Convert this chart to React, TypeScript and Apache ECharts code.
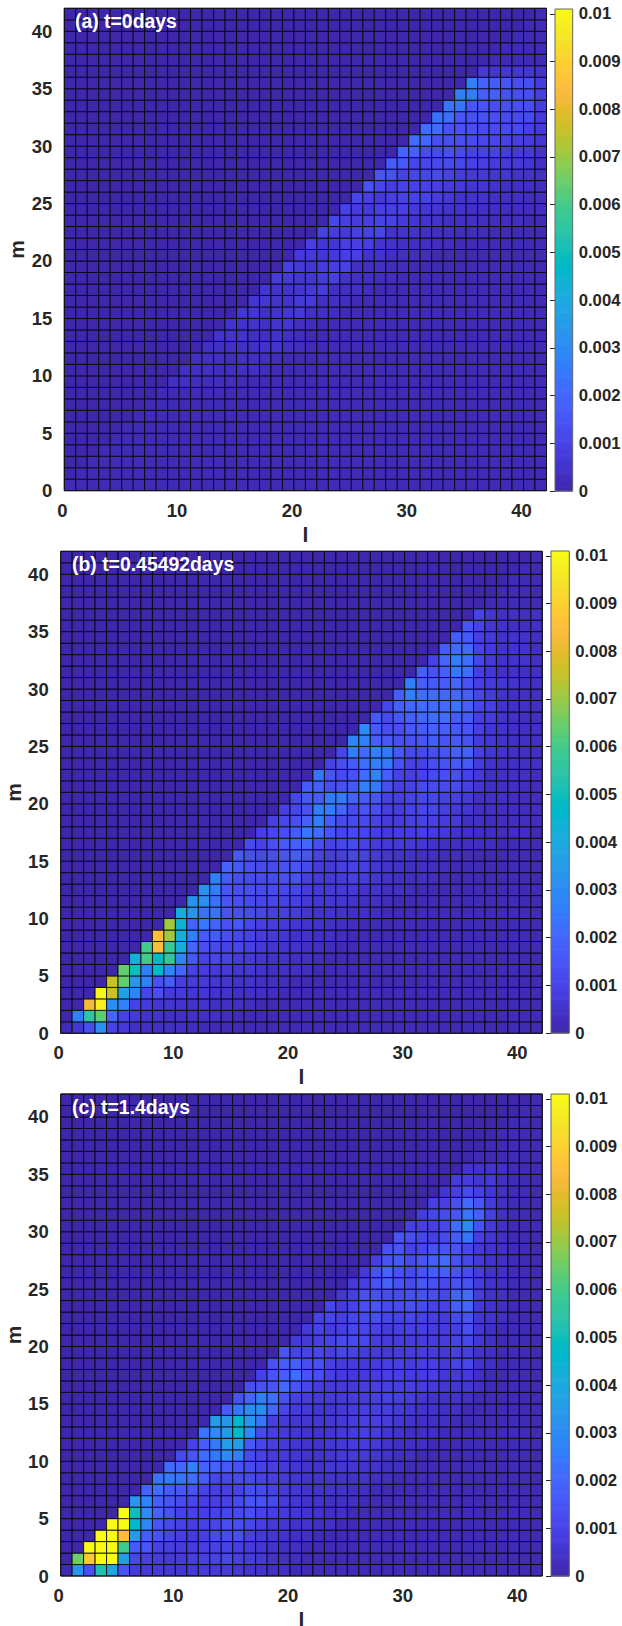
import React, { useEffect, useRef } from "react";
import * as echarts from "echarts";

const FONT = "Liberation Sans";
const xTicks = [0, 10, 20, 30, 40];
const yTicks = [0, 5, 10, 15, 20, 25, 30, 35, 40];
const barTicks = [0, 0.001, 0.002, 0.003, 0.004, 0.005, 0.006, 0.007, 0.008, 0.009, 0.01];
const titles = ["(a) t=0days", "(b) t=0.45492days", "(c) t=1.4days"];

// Values are in units of 1e-4. Row form: [m, first l, value at l, value at l+1, ...]
const panelARows = [
  [36, 36, 7, 6, 6, 6, 6, 5],
  [35, 35, 27, 19, 17, 15, 13, 13, 8],
  [34, 34, 26, 26, 18, 18, 14, 13, 13, 9],
  [33, 33, 24, 24, 15, 15, 13, 13, 13, 13, 8],
  [32, 32, 23, 22, 15, 14, 14, 13, 12, 12, 12, 7],
  [31, 31, 22, 22, 14, 14, 13, 12, 12, 12, 12, 9, 7],
  [30, 30, 21, 20, 13, 13, 13, 12, 11, 11, 10, 9, 8, 6],
  [29, 29, 19, 18, 12, 12, 13, 12, 10, 10, 10, 8, 7, 7, 5],
  [28, 28, 17, 16, 11, 11, 12, 12, 11, 10, 9, 8, 7, 7, 6, 4],
  [27, 27, 15, 14, 10, 11, 11, 12, 10, 8, 7, 7, 6, 6, 5, 5, 4],
  [26, 26, 14, 11, 8, 10, 10, 10, 9, 8, 7, 6, 6, 5, 4, 4, 4, 3],
  [25, 25, 11, 9, 7, 9, 10, 10, 10, 8, 7, 5, 5, 5, 4, 4, 4, 3, 3],
  [24, 24, 10, 8, 7, 9, 9, 9, 7, 6, 6, 5, 5, 4, 4, 4, 3, 3, 3, 3],
  [23, 23, 11, 9, 8, 9, 10, 10, 7, 6, 5, 5, 4, 4, 4, 3, 3, 3, 3],
  [22, 22, 10, 8, 7, 9, 10, 11, 5, 5, 5, 4, 4, 4, 3, 3, 3],
  [21, 21, 9, 6, 6, 9, 9, 9, 5, 5, 4, 4, 4, 3, 3],
  [20, 20, 7, 7, 6, 7, 9, 9, 5, 5, 4, 4, 3, 3],
  [19, 19, 9, 7, 6, 8, 9, 10, 4, 4, 4, 3, 3],
  [18, 18, 8, 7, 6, 6, 8, 9, 5, 4, 4, 3, 3],
  [17, 17, 6, 5, 5, 6, 7, 8, 4, 4, 4, 3],
  [16, 16, 6, 6, 5, 5, 7, 7, 4, 4, 3],
  [15, 15, 6, 6, 4, 5, 6, 7, 4, 4, 3],
  [14, 14, 5, 5, 5, 4, 5, 6, 4, 3],
  [13, 13, 5, 5, 5, 4, 4, 5, 4, 3],
  [12, 12, 4, 4, 4, 4, 4, 5, 5, 4, 3],
  [11, 11, 4, 4, 4, 3, 4, 4, 4, 3],
  [10, 10, 4, 4, 4, 3, 3, 4, 4, 3],
  [9, 9, 4, 4, 3, 3, 3, 3],
];

const panelBRows = [
  [36, 36, 10, 6, 4, 4, 4, 4],
  [35, 35, 15, 10, 6, 5, 4, 4, 4],
  [34, 34, 17, 16, 9, 7, 5, 5, 5, 4],
  [33, 33, 17, 21, 21, 10, 7, 5, 5, 5, 4],
  [32, 32, 10, 20, 26, 23, 11, 7, 5, 5, 5, 4],
  [31, 31, 18, 14, 18, 25, 22, 9, 6, 4, 4, 4, 4],
  [30, 30, 27, 18, 17, 17, 20, 15, 9, 8, 6, 5, 4, 4],
  [29, 29, 17, 26, 22, 21, 20, 20, 18, 11, 8, 5, 4, 4, 4],
  [28, 28, 11, 18, 20, 21, 21, 21, 24, 18, 11, 9, 5, 4, 4, 4],
  [27, 27, 16, 12, 16, 18, 20, 22, 22, 17, 17, 9, 8, 5, 4, 4, 4],
  [26, 26, 30, 17, 13, 13, 16, 17, 19, 18, 16, 15, 9, 6, 5, 4, 4, 4],
  [25, 25, 28, 27, 18, 16, 13, 14, 15, 17, 15, 16, 14, 8, 6, 5, 4, 4, 4],
  [24, 24, 11, 26, 21, 27, 25, 16, 12, 12, 13, 15, 18, 18, 9, 6, 5, 4, 4, 4],
  [23, 23, 10, 13, 17, 23, 27, 25, 14, 10, 10, 13, 14, 16, 16, 8, 5, 4, 4, 4, 4],
  [22, 22, 24, 15, 12, 14, 22, 28, 18, 10, 9, 10, 12, 13, 13, 10, 7, 4, 4, 4, 4, 3],
  [21, 21, 17, 18, 13, 14, 16, 27, 25, 13, 9, 10, 12, 12, 12, 12, 9, 6, 4, 4, 4, 3, 3],
  [20, 20, 11, 16, 17, 25, 25, 19, 17, 15, 10, 9, 10, 11, 11, 10, 9, 7, 4, 4, 4, 3, 3, 3],
  [19, 19, 9, 11, 14, 27, 26, 20, 12, 15, 13, 9, 8, 10, 11, 11, 9, 7, 6, 4, 4, 3, 3, 3, 3],
  [18, 18, 9, 11, 13, 18, 27, 17, 12, 12, 12, 10, 8, 8, 9, 10, 9, 8, 7, 4, 4, 3, 3, 3, 3, 3],
  [17, 17, 9, 11, 13, 17, 25, 22, 15, 11, 12, 11, 9, 7, 8, 8, 9, 8, 7, 5, 4, 3, 3, 3, 3, 3],
  [16, 16, 12, 10, 13, 16, 18, 20, 13, 10, 11, 12, 10, 8, 7, 7, 7, 6, 5, 4, 4, 3, 3, 3],
  [15, 15, 16, 13, 12, 13, 15, 17, 15, 10, 8, 9, 11, 10, 7, 6, 5, 5, 4, 4, 3, 3, 3],
  [14, 14, 19, 16, 13, 12, 12, 14, 15, 12, 8, 7, 9, 10, 9, 6, 5, 5, 4, 4, 3, 3],
  [13, 13, 27, 17, 13, 12, 12, 12, 13, 14, 9, 7, 7, 8, 9, 8, 6, 5, 4, 4, 4, 3],
  [12, 12, 32, 26, 15, 13, 13, 12, 12, 11, 11, 8, 7, 7, 7, 7, 5, 5, 4, 4, 3],
  [11, 11, 32, 31, 23, 15, 13, 12, 11, 11, 10, 9, 7, 6, 6, 6, 5, 4, 4, 3],
  [10, 10, 40, 32, 23, 23, 14, 13, 12, 11, 9, 9, 8, 6, 5, 5, 5, 4, 4, 3],
  [9, 9, 71, 44, 19, 25, 19, 14, 16, 11, 9, 8, 7, 6, 5, 5, 4, 4, 3],
  [8, 8, 85, 71, 42, 27, 17, 17, 13, 11, 10, 8, 7, 6, 5, 5, 4, 4, 3],
  [7, 7, 60, 85, 58, 42, 20, 13, 12, 10, 11, 9, 7, 6, 5, 5, 4, 4, 3],
  [6, 6, 43, 60, 47, 56, 28, 16, 10, 11, 10, 8, 7, 6, 5, 5, 4, 4, 3],
  [5, 5, 64, 50, 27, 47, 28, 20, 10, 8, 7, 7, 6, 6, 5, 4, 4, 4, 3],
  [4, 4, 76, 64, 33, 27, 14, 17, 9, 8, 7, 6, 6, 5, 5, 4, 4, 3],
  [3, 3, 100, 76, 37, 28, 11, 13, 8, 7, 6, 6, 5, 5, 4, 4, 4, 3],
  [2, 2, 83, 98, 31, 28, 10, 8, 6, 6, 5, 5, 5, 4, 4, 4, 3],
  [1, 1, 27, 55, 63, 20, 10, 7, 5, 5, 4, 4, 4, 4, 4, 3],
  [0, 1, 6, 13, 31, 10, 7, 4, 4, 4, 4, 4, 3],
];

const panelCRows = [
  [35, 35, 5, 5, 5, 4],
  [34, 34, 8, 8, 6, 7, 4],
  [33, 33, 6, 9, 12, 9, 6, 4],
  [32, 32, 9, 9, 13, 21, 15, 8, 4],
  [31, 31, 8, 11, 12, 15, 24, 18, 9, 4],
  [30, 30, 9, 9, 9, 11, 21, 30, 14, 7, 4],
  [29, 29, 15, 13, 11, 9, 12, 17, 24, 9, 6, 4],
  [28, 28, 14, 15, 10, 11, 14, 15, 15, 11, 7, 5, 4],
  [27, 27, 9, 15, 16, 12, 15, 18, 21, 14, 11, 7, 5, 4],
  [26, 26, 7, 14, 19, 14, 12, 14, 17, 18, 14, 12, 8, 5, 4],
  [25, 25, 7, 9, 14, 19, 14, 12, 16, 14, 12, 14, 14, 8, 5, 4],
  [24, 24, 6, 9, 13, 13, 12, 12, 13, 14, 13, 11, 19, 21, 8, 5, 4],
  [23, 23, 11, 8, 10, 13, 15, 12, 12, 13, 12, 10, 10, 18, 20, 7, 5, 4],
  [22, 22, 10, 11, 9, 11, 12, 13, 11, 10, 11, 10, 9, 8, 12, 14, 6, 5, 4],
  [21, 21, 7, 10, 8, 9, 11, 11, 10, 8, 9, 9, 9, 8, 8, 9, 13, 6, 4],
  [20, 20, 7, 7, 9, 10, 12, 12, 11, 8, 8, 8, 8, 8, 8, 8, 10, 11, 6, 4],
  [19, 19, 15, 10, 10, 11, 9, 11, 10, 8, 7, 7, 8, 8, 8, 8, 7, 9, 9, 5, 4],
  [18, 18, 14, 17, 18, 13, 14, 9, 8, 8, 7, 8, 9, 9, 8, 9, 9, 7, 10, 11, 5, 4],
  [17, 17, 10, 15, 18, 22, 14, 13, 9, 8, 7, 7, 8, 9, 9, 8, 8, 9, 6, 7, 7, 4],
  [16, 16, 13, 14, 15, 21, 15, 11, 8, 7, 7, 7, 8, 9, 9, 9, 9, 8, 7, 6, 6, 6, 4],
  [15, 15, 14, 20, 27, 23, 14, 9, 8, 7, 7, 7, 8, 8, 9, 10, 9, 8, 6, 5, 5, 5, 4],
  [14, 14, 17, 25, 30, 30, 20, 11, 8, 7, 6, 6, 7, 8, 9, 9, 9, 7, 6, 5, 5, 4, 4],
  [13, 13, 36, 33, 46, 33, 24, 9, 7, 6, 6, 6, 6, 7, 8, 9, 9, 8, 6, 5, 4, 4, 4],
  [12, 12, 24, 31, 35, 47, 30, 12, 9, 7, 6, 5, 5, 6, 7, 8, 9, 8, 6, 5, 4, 4, 4],
  [11, 11, 10, 17, 25, 36, 36, 16, 11, 9, 7, 6, 5, 5, 6, 7, 8, 8, 7, 5, 4, 4, 4],
  [10, 10, 12, 15, 22, 25, 30, 27, 12, 10, 8, 7, 6, 5, 5, 6, 7, 7, 7, 6, 5, 4, 4],
  [9, 9, 21, 20, 27, 19, 19, 16, 14, 12, 10, 9, 7, 6, 5, 5, 6, 6, 6, 5, 5, 4, 4],
  [8, 8, 23, 25, 24, 22, 17, 11, 11, 12, 12, 10, 9, 7, 6, 5, 5, 5, 5, 5, 5, 4, 4],
  [7, 7, 19, 22, 17, 16, 15, 10, 9, 9, 10, 13, 12, 10, 7, 6, 5, 5, 5, 5, 4, 4],
  [6, 6, 33, 28, 18, 15, 12, 11, 9, 9, 10, 12, 15, 14, 12, 7, 6, 5, 5, 4, 4, 4],
  [5, 5, 101, 50, 30, 19, 14, 10, 10, 9, 10, 11, 12, 13, 10, 9, 7, 6, 5, 5, 4, 4],
  [4, 4, 101, 101, 46, 29, 15, 12, 10, 9, 10, 11, 13, 13, 11, 9, 7, 6, 5, 5, 4, 4],
  [3, 3, 101, 101, 85, 35, 17, 14, 11, 9, 8, 9, 12, 12, 13, 9, 7, 6, 5, 4, 4],
  [2, 2, 101, 101, 101, 59, 17, 15, 10, 9, 8, 8, 9, 10, 10, 9, 8, 6, 5, 4, 4],
  [1, 1, 65, 88, 101, 101, 36, 11, 9, 8, 7, 8, 9, 9, 10, 11, 9, 8, 7, 5, 4, 4],
  [0, 1, 33, 14, 52, 38, 15, 8, 7, 7, 6, 6, 7, 7, 7, 7, 6, 5, 5, 4, 4],
];

const parula = [
  [0.2422, 0.1504, 0.6603], [0.2504, 0.165, 0.7076], [0.2578, 0.1818, 0.7511], [0.2647, 0.1978, 0.7952],
  [0.2706, 0.2147, 0.8364], [0.2751, 0.2342, 0.871], [0.2783, 0.2559, 0.8991], [0.2803, 0.2782, 0.9221],
  [0.2813, 0.3006, 0.9414], [0.281, 0.3228, 0.9579], [0.2795, 0.3447, 0.9717], [0.276, 0.3667, 0.9829],
  [0.2699, 0.3892, 0.9906], [0.2602, 0.4123, 0.9952], [0.244, 0.4358, 0.9988], [0.2206, 0.4603, 0.9973],
  [0.1963, 0.4847, 0.9892], [0.1834, 0.5074, 0.9798], [0.1786, 0.5289, 0.9682], [0.1764, 0.5499, 0.952],
  [0.1687, 0.5703, 0.9359], [0.154, 0.5902, 0.9218], [0.146, 0.6091, 0.9079], [0.138, 0.6276, 0.8973],
  [0.1248, 0.6459, 0.8883], [0.1113, 0.6635, 0.8763], [0.0952, 0.6798, 0.8598], [0.0689, 0.6948, 0.8394],
  [0.0297, 0.7082, 0.8163], [0.0036, 0.7203, 0.7917], [0.0067, 0.7312, 0.766], [0.0433, 0.7411, 0.7394],
  [0.0964, 0.75, 0.712], [0.1408, 0.7584, 0.6842], [0.1717, 0.767, 0.6554], [0.1938, 0.7758, 0.6251],
  [0.2161, 0.7843, 0.5923], [0.247, 0.7918, 0.5567], [0.2906, 0.7973, 0.5188], [0.3406, 0.8008, 0.4789],
  [0.3909, 0.8029, 0.4354], [0.4456, 0.8024, 0.3909], [0.5044, 0.7993, 0.348], [0.5616, 0.7942, 0.3045],
  [0.6174, 0.7876, 0.2612], [0.672, 0.7793, 0.2227], [0.7242, 0.7698, 0.191], [0.7738, 0.7598, 0.1646],
  [0.8203, 0.7498, 0.1535], [0.8634, 0.7406, 0.1596], [0.9035, 0.733, 0.1774], [0.9393, 0.7288, 0.21],
  [0.9728, 0.7298, 0.2394], [0.9956, 0.7434, 0.2371], [0.997, 0.7659, 0.2199], [0.9952, 0.7893, 0.2028],
  [0.9892, 0.8136, 0.1885], [0.9786, 0.8386, 0.1766], [0.9676, 0.8639, 0.1643], [0.961, 0.889, 0.1537],
  [0.9597, 0.9135, 0.1423], [0.9628, 0.9373, 0.1265], [0.9691, 0.9606, 0.1064], [0.9769, 0.9839, 0.0805],
].map((c) => `rgb(${c.map((x) => Math.round(x * 255)).join(",")})`);

const SCALE_MAX = 0.0101;
const GRID_SIZE = 42;
const BAR_STEPS = 256;
const INK = "#262626";

function cellsFrom(rows: number[][], lowerBg: number, upperBg: number) {
  const lookup = new Map<string, number>();
  rows.forEach(([m, start, ...vals]) => vals.forEach((v, k) => lookup.set(`${start + k},${m}`, v)));
  const out: number[][] = [];
  for (let m = 0; m < GRID_SIZE; m++) {
    for (let l = 0; l < GRID_SIZE; l++) {
      const v = lookup.get(`${l},${m}`);
      out.push([l, m, (v !== undefined ? v : l >= m ? lowerBg : upperBg) * 1e-4]);
    }
  }
  return out;
}

const panels = [
  { rows: panelARows, lower: 2, upper: 0.5, plot: [64.3, 8.3, 482.2, 482.4], bar: [555, 9, 17.7, 482], title: [75, 11] },
  { rows: panelBRows, lower: 2, upper: 0.5, plot: [60.7, 551.3, 481.6, 482], bar: [551, 551, 18.3, 482], title: [72, 554] },
  { rows: panelCRows, lower: 2, upper: 0.5, plot: [60.7, 1094, 481.6, 482], bar: [551, 1094, 18.3, 482], title: [72, 1097] },
];

const barLevels = Array.from({ length: BAR_STEPS }, (_, i) => [
  0, (i / BAR_STEPS) * SCALE_MAX, ((i + 0.5) / BAR_STEPS) * SCALE_MAX, ((i + 1) / BAR_STEPS) * SCALE_MAX,
]);

function buildOption() {
  const grid: any[] = [], xAxis: any[] = [], yAxis: any[] = [], series: any[] = [], title: any[] = [];
  panels.forEach((p, idx) => {
    const gi = idx * 2;
    const label = { fontFamily: FONT, fontWeight: "bold", fontSize: 18.5, color: INK };
    grid.push({ left: p.plot[0], top: p.plot[1], width: p.plot[2], height: p.plot[3], outerBoundsMode: "none", show: true, z: 5, backgroundColor: "transparent", borderColor: "#111", borderWidth: 1 });
    xAxis.push({
      gridIndex: gi, type: "value", min: 0, max: GRID_SIZE, splitLine: { show: false }, axisTick: { show: false },
      axisLine: { show: false }, name: "l", nameLocation: "middle", nameGap: 33, nameMoveOverlap: false,
      nameTextStyle: { fontFamily: FONT, fontWeight: "bold", fontSize: 21, color: INK },
      axisLabel: { ...label, margin: 10, padding: [0, 4, 0, 0], customValues: xTicks },
    });
    yAxis.push({
      gridIndex: gi, type: "value", min: 0, max: GRID_SIZE, splitLine: { show: false }, axisTick: { show: false },
      axisLine: { show: false }, name: "m", nameLocation: "middle", nameGap: 37, nameRotate: 90, nameMoveOverlap: false,
      nameTextStyle: { fontFamily: FONT, fontWeight: "bold", fontSize: 21, color: INK },
      axisLabel: { ...label, margin: 12, customValues: yTicks },
    });
    series.push({
      type: "custom", xAxisIndex: gi, yAxisIndex: gi, coordinateSystem: "cartesian2d", silent: true, progressive: 0,
      encode: { x: 0, y: 1 }, data: cellsFrom(p.rows, p.lower, p.upper),
      renderItem: (_: any, api: any) => {
        const a = api.coord([api.value(0), api.value(1) + 1]);
        const b = api.coord([api.value(0) + 1, api.value(1)]);
        return {
          type: "rect", shape: { x: a[0], y: a[1], width: b[0] - a[0], height: b[1] - a[1] },
          style: { fill: api.visual("color"), stroke: "#000", lineWidth: 0.8 },
        };
      },
    });
    // colour bar
    grid.push({ left: p.bar[0], top: p.bar[1], width: p.bar[2], height: p.bar[3], outerBoundsMode: "none", show: true, z: 5, backgroundColor: "transparent", borderColor: "#666", borderWidth: 1 });
    xAxis.push({ gridIndex: gi + 1, type: "value", min: 0, max: 1, show: false });
    yAxis.push({
      gridIndex: gi + 1, type: "value", min: 0, max: SCALE_MAX, position: "right", splitLine: { show: false },
      axisLine: { show: false },
      axisTick: { show: true, inside: true, length: 5, customValues: barTicks, lineStyle: { color: INK, width: 1 } },
      axisLabel: {
        fontFamily: FONT, fontWeight: "bold", fontSize: 16.7, color: INK, margin: 6, customValues: barTicks,
        formatter: (v: number) => (v === 0 ? "0" : String(parseFloat(v.toFixed(3)))),
      },
    });
    series.push({
      type: "custom", xAxisIndex: gi + 1, yAxisIndex: gi + 1, coordinateSystem: "cartesian2d", silent: true, progressive: 0,
      encode: { x: 0, y: 2 }, data: barLevels, z: 2,
      renderItem: (_: any, api: any) => {
        const a = api.coord([0, api.value(3)]);
        const b = api.coord([1, api.value(1)]);
        return {
          type: "rect", shape: { x: a[0], y: a[1], width: b[0] - a[0], height: b[1] - a[1] + 0.6 },
          style: { fill: api.visual("color") },
        };
      },
    });
    title.push({
      text: titles[idx], left: p.title[0], top: p.title[1], padding: 0, z: 8,
      textStyle: { color: "#fff", fontFamily: FONT, fontWeight: "bold", fontSize: 19.4 },
    });
  });
  return {
    animation: false, backgroundColor: "#fff", grid, xAxis, yAxis, series, title,
    tooltip: { show: false },
    visualMap: [{
      type: "continuous", show: false, min: 0, max: SCALE_MAX, dimension: 2,
      seriesIndex: [0, 1, 2, 3, 4, 5], inRange: { color: parula },
    }],
  };
}

export default function App() {
  const ref = useRef<HTMLDivElement>(null);
  useEffect(() => {
    document.body.style.margin = "0";
    const chart = echarts.init(ref.current!, undefined, { renderer: "svg" });
    chart.setOption(buildOption() as any);
    return () => chart.dispose();
  }, []);
  return <div ref={ref} style={{ width: 622, height: 1626 }} />;
}
